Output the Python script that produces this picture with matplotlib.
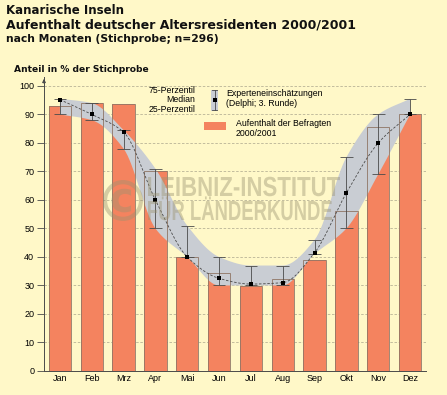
import numpy as np
import matplotlib
matplotlib.use("Agg")
import matplotlib.pyplot as plt
from matplotlib.font_manager import FontProperties
from matplotlib.patches import Rectangle, FancyArrowPatch, PathPatch
from matplotlib.textpath import TextPath
from matplotlib.transforms import Affine2D

# data
months = ["Jan", "Feb", "Mrz", "Apr", "Mai", "Jun", "Jul", "Aug", "Sep", "Okt", "Nov", "Dez"]
befragte = [93, 94, 93.5, 70, 40, 34.5, 29.7, 32.3, 38.8, 56.3, 85.5, 90]
p75 = [95.5, 94, 84.5, 71, 51, 40, 37, 37, 46, 75, 90, 95.5]
median = [95.2, 90, 83.8, 60, 40, 32.5, 30.5, 31, 41.5, 62.5, 80, 90]
p25 = [90, 88, 78, 50, 40, 30, 30, 30, 41, 50, 69, 90]
yticks = [0, 10, 20, 30, 40, 50, 60, 70, 80, 90, 100]

BG = "#fff8c8"
BAR = "#f4835f"
BAND = "#c9cdd3"
DARK = "#4a4a4a"
DPI = 100


def pchip(xs, ys, n=16):
    """Monotone cubic (Fritsch-Carlson) curve through the points, no overshoot"""
    xs = np.asarray(xs, float)
    ys = np.asarray(ys, float)
    h = np.diff(xs)
    d = np.diff(ys) / h
    m = np.zeros_like(ys)
    for k in range(1, len(ys) - 1):
        if d[k - 1] * d[k] > 0:
            w1 = 2 * h[k] + h[k - 1]
            w2 = h[k] + 2 * h[k - 1]
            m[k] = (w1 + w2) / (w1 / d[k - 1] + w2 / d[k])
    m[0] = d[0]
    m[-1] = d[-1]
    px, py = [], []
    t = np.linspace(0, 1, n, endpoint=False)
    for k in range(len(xs) - 1):
        h00 = 2 * t ** 3 - 3 * t ** 2 + 1
        h10 = t ** 3 - 2 * t ** 2 + t
        h01 = -2 * t ** 3 + 3 * t ** 2
        h11 = t ** 3 - t ** 2
        px.append(xs[k] + t * h[k])
        py.append(h00 * ys[k] + h10 * h[k] * m[k] + h01 * ys[k + 1] + h11 * h[k] * m[k + 1])
    px.append([xs[-1]])
    py.append([ys[-1]])
    return np.concatenate(px), np.concatenate(py)


def boxed_text(axis, s, x0, base, width, cap, fp, **kw):
    """Text drawn as a path, squeezed to a given width and cap height (pixel coords)"""
    tp = TextPath((0, 0), s, size=10, prop=fp)
    ref = TextPath((0, 0), "H", size=10, prop=fp).get_extents()
    ext = tp.get_extents()
    tr = Affine2D().translate(-ext.x0, 0).scale(width / ext.width, -cap / ref.height)
    tr = tr.translate(x0, base)
    axis.add_patch(PathPatch(tp, transform=tr + axis.transData, lw=0, **kw))


def fit_size(s, width, fp):
    """Font size in points so the string is about `width` pixels wide"""
    ext = TextPath((0, 0), s, size=10, prop=fp).get_extents()
    return 10 * width / ext.width * 72 / DPI


fig = plt.figure(figsize=(4.47, 3.95), dpi=DPI, facecolor=BG)
W, H = 447, 395
ax = fig.add_axes([44 / W, (H - 371) / H, (426 - 44) / W, (371 - 77.4) / H])
ax.set_facecolor(BG)

x = np.arange(len(months))
ax.set_xlim(-0.5, 11.5)
ax.set_ylim(0, 103)

# grid
for v in yticks[1:]:
    ax.axhline(v, color="#b9b396", lw=0.6, ls=(0, (3, 2)), zorder=0)

# bars (fill), band, bar outlines
ax.bar(x, befragte, width=0.7, color=BAR, edgecolor="none", zorder=1)
ux, uy = pchip(x, p75)
lx, ly = pchip(x, p25)
ax.fill(np.concatenate([ux, lx[::-1]]), np.concatenate([uy, ly[::-1]]),
        color=BAND, lw=0, zorder=2)
ax.bar(x, befragte, width=0.7, fill=False, edgecolor="#8f7565", lw=0.6, zorder=3)

# whiskers
cw = 0.2
ax.vlines(x, p25, p75, color=DARK, lw=0.6, zorder=4)
ax.hlines(p75, x - cw, x + cw, color=DARK, lw=0.6, zorder=4)
ax.hlines(p25, x - cw, x + cw, color=DARK, lw=0.6, zorder=4)

mx, my = pchip(x, median)
ax.plot(mx, my, color=DARK, lw=0.6, ls=(0, (3, 2)), zorder=5)
ax.plot(x, median, ls="none", marker="s", ms=2.8, mew=0, color="black", zorder=6)

# axes styling
for s in ["top", "right"]:
    ax.spines[s].set_visible(False)
for s in ["left", "bottom"]:
    ax.spines[s].set_color(DARK)
    ax.spines[s].set_linewidth(0.7)
ax.set_yticks(yticks)
ax.set_yticklabels([str(v) for v in yticks], fontsize=6.5, family="Liberation Sans")
ax.set_xticks(x)
ax.set_xticklabels(months, fontsize=6.5, family="Liberation Sans")
ax.tick_params(axis="y", length=5, width=0.6, color=DARK, pad=2)
ax.tick_params(axis="x", length=0, pad=2.5)

# overlay in pixel coords for texts and legend
ov = fig.add_axes([0, 0, 1, 1], facecolor="none")
ov.set_xlim(0, W)
ov.set_ylim(H, 0)
ov.axis("off")

# arrow on y axis
ov.add_patch(FancyArrowPatch((44, 86), (44, 76), arrowstyle="-|>", mutation_scale=5,
                             color=DARK, lw=0.7))

# headings, sized to the widths in the reference
tfp = FontProperties(family="DejaVu Sans", weight="bold")
headings = [
    ("Kanarische Inseln", 6, 10, 116),
    ("Aufenthalt deutscher Altersresidenten 2000/2001", 6, 25, 350),
    ("nach Monaten (Stichprobe; n=296)", 6, 39.5, 211),
    ("Anteil in % der Stichprobe", 14, 69, 134),
]
for txt, hx, hy, hw in headings:
    ov.text(hx, hy, txt, fontsize=fit_size(txt, hw, tfp), fontproperties=tfp,
            va="center", color="#111111")

# legend
fs = 6.3
ov.text(195, 90.5, "75-Perzentil", fontsize=fs, ha="right", va="center", family="Liberation Sans")
ov.text(195, 100, "Median", fontsize=fs, ha="right", va="center", family="Liberation Sans")
ov.text(195, 110, "25-Perzentil", fontsize=fs, ha="right", va="center", family="Liberation Sans")
ov.add_patch(Rectangle((210.7, 90), 7.6, 21, color=BAND, lw=0))
ov.plot([214.5, 214.5], [90, 110], color=DARK, lw=0.6)
ov.plot([212, 217], [90, 90], color=DARK, lw=0.6)
ov.plot([212, 217], [110, 110], color=DARK, lw=0.6)
ov.plot([214.5], [100], marker="s", ms=2.8, mew=0, color="black")
ov.text(226, 94, "Experteneinschätzungen", fontsize=fs, va="center", family="Liberation Sans")
ov.text(226, 104, "(Delphi; 3. Runde)", fontsize=fs, va="center", family="Liberation Sans")
ov.add_patch(Rectangle((204.3, 121.7), 21.7, 8.5, color=BAR, lw=0))
ov.text(236, 124, "Aufenthalt der Befragten", fontsize=fs, va="center", family="Liberation Sans")
ov.text(236, 134, "2000/2001", fontsize=fs, va="center", family="Liberation Sans")

# watermark, squeezed to look condensed
wfp = FontProperties(family="Liberation Sans", weight="bold")
wm = dict(color="#9a9270", alpha=0.42)
boxed_text(ov, "LEIBNIZ-INSTITUT", 148, 196, 192, 19, wfp, **wm)
boxed_text(ov, "FÜR LÄNDERKUNDE", 148, 220, 184, 19, wfp, **wm)
cfp = FontProperties(family="DejaVu Sans", weight="bold")
tp = TextPath((0, 0), "\u00a9", size=10, prop=cfp)
ce = tp.get_extents()
ctr = Affine2D().translate(-ce.x0, -ce.y1).scale(40 / ce.width, -41 / ce.height).translate(103, 180)
ov.add_patch(PathPatch(tp, transform=ctr + ov.transData, lw=0, **wm))

fig.savefig("out.png", dpi=DPI, facecolor=BG)
